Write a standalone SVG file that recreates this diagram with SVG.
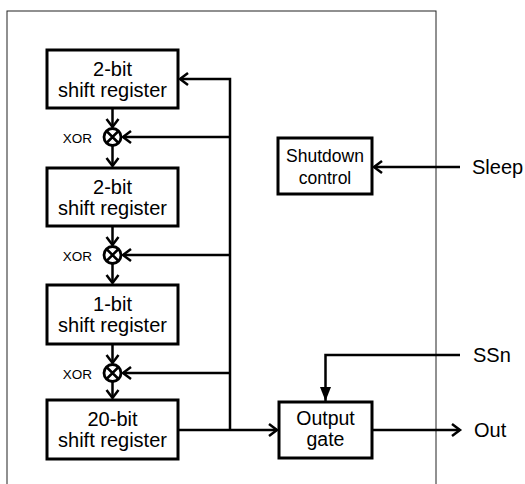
<svg xmlns="http://www.w3.org/2000/svg" width="525" height="484" viewBox="0 0 525 484">
<style>
.box{fill:#fff;stroke:#000;stroke-width:3}
.t{font-family:"Liberation Sans",Arial,sans-serif;fill:#000;text-anchor:middle}
.lbl{font-family:"Liberation Sans",Arial,sans-serif;fill:#000;font-size:20px}
.w{fill:none;stroke:#000;stroke-width:2.5}
.xor{fill:#fff;stroke:#000;stroke-width:2.8}
</style>
<defs>
<marker id="open" markerUnits="userSpaceOnUse" markerWidth="20" markerHeight="20" viewBox="-12 -10 14 20" refX="0" refY="0" orient="auto">
<path d="M-8,-6 L0,0 L-8,6" fill="none" stroke="#000" stroke-width="2.5"/>
</marker>
<marker id="solid" markerUnits="userSpaceOnUse" markerWidth="20" markerHeight="20" viewBox="-16 -10 18 20" refX="0" refY="0" orient="auto">
<path d="M-14,-5.5 L0,0 L-14,5.5 Z" fill="#000"/>
</marker>
</defs>
<rect x="7" y="11" width="429" height="490" fill="#fff" stroke="#222" stroke-width="1"/>
<g id="connectors">
<path class="w" d="M178,430 H277" marker-end="url(#open)"/>
<path class="w" d="M230,430 V79 H180" marker-end="url(#open)"/>
<path class="w" d="M230,137 H123" marker-end="url(#open)"/>
<path class="w" d="M230,255 H123" marker-end="url(#open)"/>
<path class="w" d="M230,373 H123" marker-end="url(#open)"/>
<path class="w" d="M112.5,108 V127" marker-end="url(#open)"/>
<path class="w" d="M112.5,146 V166" marker-end="url(#open)"/>
<path class="w" d="M112.5,227 V245" marker-end="url(#open)"/>
<path class="w" d="M112.5,264 V283" marker-end="url(#open)"/>
<path class="w" d="M112.5,344 V363" marker-end="url(#open)"/>
<path class="w" d="M112.5,382 V398" marker-end="url(#open)"/>
<path class="w" d="M460,167 H374" marker-end="url(#open)"/>
<path class="w" d="M460,355 H325.5 V401" marker-end="url(#solid)"/>
<path class="w" d="M372,430 H460" marker-end="url(#open)"/>
</g>
<g id="reg1">
<rect class="box" x="47" y="50" width="131" height="58"/>
<text class="t" x="112.5" y="76" font-size="20">2-bit</text>
<text class="t" x="112.5" y="97" font-size="20">shift register</text>
</g>
<g id="xor1">
<circle class="xor" cx="112.5" cy="137" r="8.5"/>
<path class="w" d="M106.5,131 L118.5,143 M118.5,131 L106.5,143"/>
<text class="t" x="77.5" y="143" font-size="13.5">XOR</text>
</g>
<g id="reg2">
<rect class="box" x="47" y="168" width="131" height="58"/>
<text class="t" x="112.5" y="194" font-size="20">2-bit</text>
<text class="t" x="112.5" y="215" font-size="20">shift register</text>
</g>
<g id="xor2">
<circle class="xor" cx="112.5" cy="255" r="8.5"/>
<path class="w" d="M106.5,249 L118.5,261 M118.5,249 L106.5,261"/>
<text class="t" x="77.5" y="261" font-size="13.5">XOR</text>
</g>
<g id="reg3">
<rect class="box" x="47" y="285" width="131" height="59"/>
<text class="t" x="112.5" y="311" font-size="20">1-bit</text>
<text class="t" x="112.5" y="332" font-size="20">shift register</text>
</g>
<g id="xor3">
<circle class="xor" cx="112.5" cy="373" r="8.5"/>
<path class="w" d="M106.5,367 L118.5,379 M118.5,367 L106.5,379"/>
<text class="t" x="77.5" y="379" font-size="13.5">XOR</text>
</g>
<g id="reg4">
<rect class="box" x="47" y="400" width="131" height="59"/>
<text class="t" x="112.5" y="426" font-size="20">20-bit</text>
<text class="t" x="112.5" y="447" font-size="20">shift register</text>
</g>
<g id="shutdown">
<rect class="box" x="278" y="138" width="94" height="56"/>
<text class="t" x="325" y="162" font-size="17.5">Shutdown</text>
<text class="t" x="325" y="184" font-size="17.5">control</text>
</g>
<g id="outgate">
<rect class="box" x="279" y="402" width="93" height="56"/>
<text class="t" x="325.5" y="425" font-size="19.5">Output</text>
<text class="t" x="325.5" y="446" font-size="19.5">gate</text>
</g>
<g id="labels">
<text class="lbl" x="472" y="174">Sleep</text>
<text class="lbl" x="473" y="362">SSn</text>
<text class="lbl" x="474" y="437">Out</text>
</g>
</svg>
